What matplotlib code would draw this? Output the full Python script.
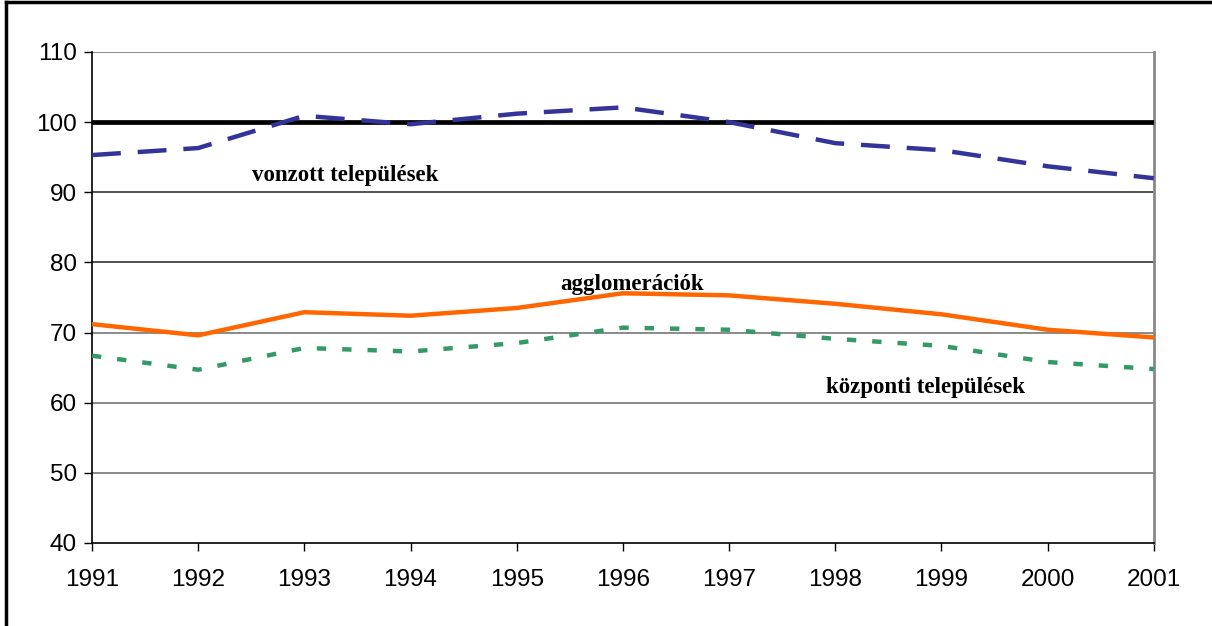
import matplotlib.pyplot as plt
from matplotlib.lines import Line2D

# adatok
years = [1991, 1992, 1993, 1994, 1995, 1996, 1997, 1998, 1999, 2000, 2001]
vonzott = [95.3, 96.3, 100.9, 99.7, 101.2, 102.1, 100.0, 97.0, 96.0, 93.7, 92.0]
agglomeraciok = [71.2, 69.6, 72.9, 72.4, 73.5, 75.6, 75.3, 74.1, 72.6, 70.4, 69.3]
kozponti = [66.7, 64.7, 67.8, 67.3, 68.5, 70.7, 70.4, 69.1, 68.1, 65.8, 64.8]
base = [100] * len(years)
y_ticks = [40, 50, 60, 70, 80, 90, 100, 110]

plt.rcParams['font.family'] = ['Liberation Sans', 'DejaVu Sans']

fig = plt.figure(figsize=(12.12, 6.26), dpi=100)
ax = fig.add_axes([0.0759, 0.1326, 0.952 - 0.0759, 0.917 - 0.1326])

for y in y_ticks[1:]:
    ax.axhline(y, color='#333333' if y in (80, 90, 100) else '#777777', lw=1.2, zorder=1)

ax.plot(years, base, color='black', lw=3.4, solid_capstyle='round', zorder=3)
ax.plot(years, vonzott, color='#333399', lw=3.2, dashes=(6.5, 3.8), zorder=4)
ax.plot(years, agglomeraciok, color='#FF6600', lw=3.2, zorder=4)
ax.plot(years, kozponti, color='#339966', lw=3.2, dashes=(2.1, 3.6), zorder=4)

ax.set_xlim(1991, 2001)
ax.set_ylim(40, 110)
ax.set_xticks(years)
ax.set_yticks(y_ticks)
ax.tick_params(axis='both', labelsize=17.5, direction='out', length=6, width=1, colors='black')
ax.tick_params(axis='x', pad=13)
ax.tick_params(axis='y', pad=5)

ax.spines['top'].set_visible(False)
ax.spines['right'].set_color('#888888')
ax.spines['right'].set_linewidth(2)
ax.spines['left'].set_linewidth(1.2)
ax.spines['bottom'].set_linewidth(1.2)

lbl = dict(family=['Liberation Serif', 'DejaVu Serif'], fontweight='bold', fontsize=16.5,
           ha='center', va='center', zorder=5)
ax.text(1993.38, 92.4, 'vonzott települések', **lbl)
ax.text(1996.09, 76.9, 'agglomerációk', **lbl)
ax.text(1998.85, 62.1, 'központi települések', **lbl)

# keret a kép tetején és bal oldalán
fig.add_artist(Line2D([0.005, 0.005], [0, 0.997], color='black', lw=2.5, transform=fig.transFigure))
fig.add_artist(Line2D([0.005, 1], [0.997, 0.997], color='black', lw=2.5, transform=fig.transFigure))

fig.savefig('out.png', dpi=100)
